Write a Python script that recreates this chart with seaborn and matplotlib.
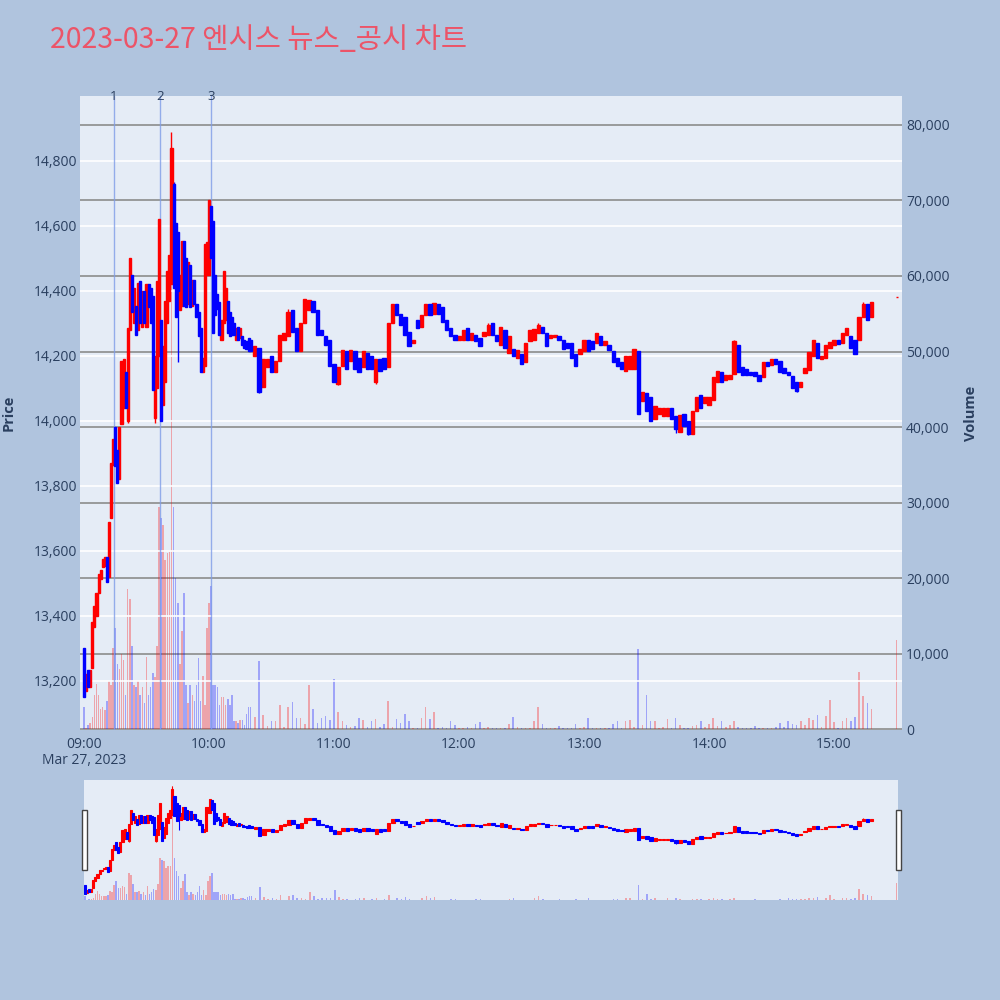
import numpy as np
import pandas as pd
import matplotlib
matplotlib.use("Agg")
import matplotlib.pyplot as plt
import seaborn as sns
from matplotlib.ticker import FuncFormatter
from matplotlib.patches import Rectangle

title = "2023-03-27 엔시스 뉴스_공시 차트"

# ---- 1-minute candles, minutes after 09:00 ----
min_1 = list(range(0, 80))
open_1 = [13300, 13170, 13235, 13180, 13240, 13365, 13400, 13470, 13515, 13550,
          13555, 13580, 13520, 13700, 13865, 13980, 13910, 13820, 13990, 14040,
          14150, 14000, 14280, 14450, 14300, 14355, 14280, 14430, 14290, 14400,
          14290, 14420, 14410, 14385, 14010, 14100, 14200, 14310, 14050, 14120,
          14300, 14370, 14420, 14730, 14610, 14580, 14340, 14355, 14555, 14500,
          14360, 14480, 14355, 14435, 14360, 14335, 14285, 14150, 14170, 14450,
          14450, 14660, 14615, 14450, 14390, 14365, 14250, 14300, 14310, 14370,
          14335, 14320, 14300, 14250, 14290, 14255, 14260, 14250, 14247, 14255]
close_1 = [13150, 13220, 13180, 13235, 13380, 13430, 13470, 13530, 13540, 13575,
           13580, 13505, 13690, 13870, 13945, 13860, 13810, 13980, 14185, 14190,
           14040, 14285, 14500, 14335, 14410, 14265, 14425, 14300, 14400, 14300,
           14420, 14350, 14300, 14095, 14200, 14430, 14620, 14000, 14230, 14370,
           14460, 14510, 14840, 14410, 14320, 14400, 14450, 14555, 14355, 14350,
           14490, 14350, 14435, 14360, 14320, 14260, 14150, 14195, 14545, 14550,
           14680, 14500, 14270, 14325, 14345, 14265, 14310, 14460, 14410, 14270,
           14260, 14265, 14265, 14285, 14250, 14285, 14235, 14225, 14221, 14215]
vol_1_k = [2.9, 0.2, 0.5, 0.8, 1.6, 4.5, 6.0, 4.5, 2.7, 2.9,
           2.5, 3.7, 6.4, 5.8, 10.7, 13.4, 8.6, 8.0, 10.0, 9.2,
           4.5, 18.5, 17.2, 11.0, 5.8, 5.5, 6.4, 4.5, 5.5, 3.4,
           9.6, 4.5, 5.5, 7.4, 6.9, 11.0, 29.4, 28.0, 27.0, 22.4,
           23.3, 23.5, 79.0, 29.4, 20.0, 16.7, 8.6, 13.0, 18.0, 5.8,
           3.4, 5.8, 4.5, 3.7, 5.8, 9.4, 3.7, 7.0, 3.2, 13.4,
           16.7, 19.0, 5.8, 5.8, 5.5, 3.2, 4.2, 4.2, 3.2, 4.0,
           3.2, 4.5, 1.0, 1.0, 0.8, 1.2, 1.2, 0.5, 2.0, 2.9]

# ---- 2-minute candles from 10:20 ----
min_2 = list(range(80, 380, 2))
open_2 = [14250, 14200, 14225, 14105, 14165, 14200, 14150, 14185, 14250, 14260,
          14340, 14285, 14215, 14300, 14340, 14370, 14340, 14280, 14260, 14250,
          14175, 14115, 14170, 14215, 14185, 14215, 14195, 14165, 14210, 14200,
          14120, 14190, 14195, 14165, 14300, 14360, 14330, 14320, 14275, 14240,
          14310, 14290, 14325, 14360, 14330, 14360, 14350, 14310, 14285, 14265,
          14250, 14250, 14285, 14250, 14265, 14255, 14260, 14265, 14300, 14265,
          14235, 14280, 14210, 14220, 14195, 14205, 14180, 14245, 14250, 14270,
          14290, 14270, 14255, 14258, 14262, 14250, 14240, 14240, 14205, 14205,
          14215, 14250, 14245, 14240, 14260, 14235, 14235, 14215, 14195, 14180,
          14155, 14160, 14160, 14215, 14060, 14085, 14075, 14005, 14020, 14015,
          14015, 14040, 14015, 13965, 14020, 14000, 13960, 14030, 14080, 14055,
          14050, 14065, 14120, 14150, 14125, 14128, 14145, 14235, 14165, 14160,
          14150, 14150, 14140, 14135, 14180, 14172, 14190, 14185, 14162, 14152,
          14138, 14120, 14105, 14148, 14158, 14200, 14240, 14190, 14195, 14225,
          14235, 14250, 14240, 14265, 14262, 14250, 14250, 14320, 14360, 14320]
close_2 = [14215, 14230, 14090, 14190, 14190, 14150, 14185, 14265, 14270, 14335,
           14275, 14215, 14300, 14375, 14372, 14335, 14265, 14265, 14235, 14170,
           14120, 14165, 14218, 14160, 14218, 14160, 14150, 14215, 14160, 14160,
           14190, 14155, 14160, 14300, 14360, 14325, 14295, 14265, 14230, 14250,
           14285, 14325, 14360, 14325, 14362, 14330, 14305, 14280, 14260, 14250,
           14262, 14280, 14250, 14270, 14245, 14230, 14275, 14295, 14265, 14245,
           14290, 14225, 14260, 14200, 14218, 14175, 14240, 14280, 14282, 14295,
           14270, 14230, 14265, 14265, 14250, 14220, 14225, 14195, 14170, 14220,
           14250, 14215, 14220, 14270, 14235, 14245, 14218, 14180, 14170, 14160,
           14200, 14200, 14220, 14020, 14090, 14030, 14000, 14045, 14040, 14040,
           14040, 14005, 13975, 14018, 13985, 13960, 14030, 14075, 14040, 14075,
           14075, 14135, 14155, 14120, 14140, 14142, 14245, 14150, 14140, 14140,
           14140, 14138, 14122, 14180, 14168, 14192, 14175, 14150, 14148, 14140,
           14100, 14092, 14120, 14162, 14212, 14248, 14195, 14200, 14235, 14244,
           14250, 14236, 14270, 14285, 14225, 14205, 14320, 14360, 14310, 14365]
vol_2_k = [2.9, 1.6, 9.0, 1.9, 0.4, 1.1, 1.0, 3.2, 0.3, 2.9,
           3.6, 1.5, 1.5, 0.7, 5.8, 2.6, 0.8, 1.4, 1.7, 1.2,
           6.6, 2.3, 1.0, 0.5, 0.3, 0.4, 1.4, 1.2, 0.3, 1.0,
           1.3, 0.3, 0.7, 3.7, 0.3, 1.3, 0.8, 2.0, 1.0, 0.2,
           0.2, 1.4, 2.9, 1.3, 2.2, 0.2, 0.3, 0.2, 1.0, 0.5,
           0.1, 0.2, 0.3, 0.2, 0.7, 0.9, 0.1, 0.3, 0.1, 0.1,
           0.2, 0.1, 0.7, 1.6, 0.3, 0.2, 0.2, 0.1, 1.1, 2.9,
           0.6, 0.2, 0.2, 0.1, 0.4, 0.2, 0.1, 0.2, 0.7, 0.1,
           0.3, 1.4, 0.1, 0.2, 0.2, 0.1, 0.2, 0.6, 1.0, 0.1,
           1.1, 1.2, 0.3, 10.6, 0.5, 4.5, 1.0, 1.1, 0.1, 0.3,
           1.3, 0.2, 1.4, 0.5, 0.2, 0.2, 0.4, 0.5, 1.0, 0.3,
           0.7, 1.5, 0.4, 1.0, 0.3, 0.5, 1.1, 0.3, 0.2, 0.2,
           0.1, 0.4, 0.2, 0.2, 0.1, 0.1, 0.3, 0.8, 0.3, 1.1,
           0.7, 0.5, 1.0, 0.5, 1.5, 1.2, 1.8, 0.3, 1.7, 3.8,
           0.9, 0.2, 1.1, 1.5, 1.0, 1.6, 7.6, 4.4, 3.4, 2.6]

# ---- closing auction 15:30 ----
auction_min = [390]
auction_open = [14380]
auction_close = [14380]
auction_vol_k = [11.8]

wick_high = {0: 13300, 42: 14890, 43: 14735, 98: 14345, 194: 14300, 218: 14300,
             312: 14250, 374: 14367}
wick_low = {21: 13995, 34: 13995, 37: 14000, 45: 14180, 84: 14085, 122: 14110,
            140: 14115, 284: 13962, 290: 13957, 342: 14090}

news_min = [14.4, 36.5, 61.0]
news_labels = ["1", "2", "3"]

hour_ticks = [0, 60, 120, 180, 240, 300, 360]
hour_labels = ["09:00", "10:00", "11:00", "12:00", "13:00", "14:00", "15:00"]
date_label = "Mar 27, 2023"
price_ticks = list(range(13200, 14801, 200))
vol_ticks = list(range(0, 80001, 10000))

assert len(open_1) == len(close_1) == len(vol_1_k) == len(min_1)
assert len(open_2) == len(close_2) == len(vol_2_k) == len(min_2)

# ---- assemble ----
t = min_1 + min_2 + auction_min
o = open_1 + open_2 + auction_open
c = close_1 + close_2 + auction_close
v = [x * 1000 for x in vol_1_k + vol_2_k + auction_vol_k]
w = [1.0] * len(min_1) + [1.6] * len(min_2) + [1.0] * len(auction_min)
df = pd.DataFrame({"t": t, "o": o, "c": c, "v": v, "w": w})
df["h"] = [wick_high.get(tt, max(oo, cc)) for tt, oo, cc in zip(df.t, df.o, df.c)]
df["l"] = [wick_low.get(tt, min(oo, cc)) for tt, oo, cc in zip(df.t, df.o, df.c)]
df["dir"] = np.where(df.c >= df.o, "up", "down")

RED = "#FF0000"
BLUE = "#0000FF"
BG = "#E5ECF6"
FIG_BG = "#B0C4DE"
TXT = "#2a3f5f"

sns.set_style("white")
plt.rcParams["font.family"] = ["Open Sans", "Noto Sans CJK KR", "DejaVu Sans"]

fig = plt.figure(figsize=(10, 10), dpi=100, facecolor=FIG_BG)


def draw_volume(ax):
    sns.barplot(data=df, x="t", y="v", hue="dir", palette={"up": RED, "down": BLUE},
                native_scale=True, orient="x", width=0.75, alpha=0.3, saturation=1,
                errorbar=None, legend=False, dodge=False, linewidth=0, ax=ax)


def draw_candles(ax, lw_edge, lw_wick):
    for d, col in [("up", RED), ("down", BLUE)]:
        s = df[df.dir == d]
        ax.vlines(s.t, s.l, s.h, colors=col, lw=lw_wick, zorder=3)
        ax.bar(s.t, s.c - s.o, bottom=s.o, width=s.w, color=col, edgecolor=col,
               linewidth=lw_edge, zorder=4)


# ---- main panel ----
ax_v = fig.add_axes([0.080, 0.270, 0.822, 0.634])
ax_v.set_facecolor(BG)
draw_volume(ax_v)
ax_p = ax_v.twinx()
ax_p.patch.set_visible(False)
draw_candles(ax_p, 1.0, 1.0)

for xm, lab in zip(news_min, news_labels):
    ax_p.axvline(xm, color="#7f9ce8", lw=1.0, alpha=0.8, zorder=2)
    ax_p.text(xm, 1.0, lab, transform=ax_p.get_xaxis_transform(), ha="center",
              va="center", fontsize=9.5, color=TXT, clip_on=False)

ax_v.set_xlim(-1.9, 392.6)
ax_p.set_xlim(-1.9, 392.6)
ax_p.set_ylim(13049, 15000)
ax_v.set_ylim(-130, 83840)

ax_v.yaxis.tick_right()
ax_v.yaxis.set_label_position("right")
ax_p.yaxis.tick_left()
ax_p.yaxis.set_label_position("left")

ax_p.set_yticks(price_ticks)
ax_p.yaxis.set_major_formatter(FuncFormatter(lambda x, p: f"{x:,.0f}"))
ax_v.set_yticks(vol_ticks)
ax_v.yaxis.set_major_formatter(FuncFormatter(lambda x, p: f"{x:,.0f}"))
ax_v.set_xticks(hour_ticks)
ax_v.set_xticklabels(hour_labels)

ax_v.grid(axis="y", color="#8c8c8c", lw=1.2)
ax_v.grid(axis="x", visible=False)
ax_v.set_axisbelow(True)
ax_p.grid(axis="y", color="white", lw=1.2)
ax_p.grid(axis="x", visible=False)

for a in (ax_v, ax_p):
    for sp in a.spines.values():
        sp.set_visible(False)
ax_p.tick_params(axis="y", length=0, pad=2, labelsize=10, labelcolor=TXT)
ax_v.tick_params(axis="y", length=0, pad=3, labelsize=10, labelcolor=TXT)
ax_v.tick_params(axis="x", length=0, pad=5, labelsize=10, labelcolor=TXT)
ax_v.set_xlabel("")
ax_p.set_ylabel("Price", fontsize=10.5, fontweight="bold", color=TXT, labelpad=13)
ax_v.set_ylabel("Volume", fontsize=10.5, fontweight="bold", color=TXT, labelpad=10)

fig.text(0.084, 1 - 0.760, date_label, ha="center", va="center", fontsize=10, color=TXT)

# ---- range slider ----
ax_s = fig.add_axes([0.084, 0.100, 0.814, 0.120])
ax_s.set_facecolor(BG)
draw_volume(ax_s)
ax_s2 = ax_s.twinx()
ax_s2.patch.set_visible(False)
draw_candles(ax_s2, 0.8, 0.8)
for a in (ax_s, ax_s2):
    a.set_xlim(-0.5, 390.7)
    a.set_xticks([])
    a.set_yticks([])
    a.set_xlabel("")
    a.set_ylabel("")
    a.grid(False)
    for sp in a.spines.values():
        sp.set_visible(False)
ax_s.set_ylim(0, 83200)
ax_s2.set_ylim(13053, 14987)

for x0 in (0.082, 0.896):
    fig.patches.append(Rectangle((x0, 0.130), 0.0045, 0.060, transform=fig.transFigure,
                                 facecolor="white", edgecolor="#444444", lw=1.0))

fig.text(0.05, 0.96, title, ha="left", va="center", fontsize=20.5, color="#EC5468",
         family=["Noto Sans CJK KR", "DejaVu Sans"])

fig.savefig("out.png", dpi=100, facecolor=FIG_BG)
